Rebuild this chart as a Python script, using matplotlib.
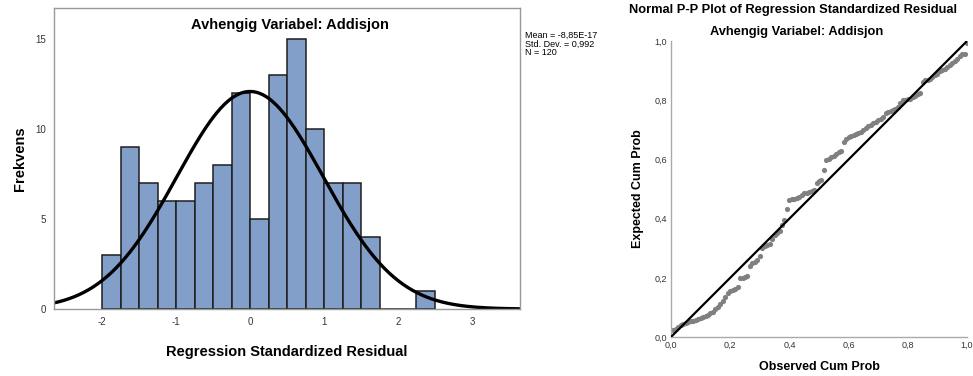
import numpy as np
import matplotlib
matplotlib.use("Agg")
import matplotlib.pyplot as plt

plt.rcParams['font.family'] = ['Liberation Sans', 'DejaVu Sans']
plt.rcParams['axes.unicode_minus'] = False

# histogram of standardized residuals (bin width 0.25)
bin_edges = [-2.0, -1.75, -1.5, -1.25, -1.0, -0.75, -0.5, -0.25, 0.0, 0.25,
             0.5, 0.75, 1.0, 1.25, 1.5, 1.75, 2.0, 2.25, 2.5]
counts = [3, 9, 7, 6, 6, 7, 8, 12, 5, 13, 15, 10, 7, 7, 4, 0, 0, 1]

# stats shown next to the histogram
res_mean = -8.85e-17
res_sd = 0.992
n_obs = 120

# P-P plot points (observed cum prob vs expected cum prob)
observed_cum = [
    0.008, 0.017, 0.025, 0.033, 0.042, 0.050, 0.058, 0.067, 0.075, 0.083,
    0.092, 0.100, 0.108, 0.117, 0.125, 0.133, 0.142, 0.150, 0.158, 0.167,
    0.175, 0.183, 0.192, 0.200, 0.208, 0.217, 0.225, 0.233, 0.242, 0.250,
    0.258, 0.267, 0.275, 0.283, 0.292, 0.300, 0.308, 0.317, 0.325, 0.333,
    0.342, 0.350, 0.358, 0.367, 0.375, 0.383, 0.392, 0.400, 0.408, 0.417,
    0.425, 0.433, 0.442, 0.450, 0.458, 0.467, 0.475, 0.483, 0.492, 0.500,
    0.508, 0.517, 0.525, 0.533, 0.542, 0.550, 0.558, 0.567, 0.575, 0.583,
    0.592, 0.600, 0.608, 0.617, 0.625, 0.633, 0.642, 0.650, 0.658, 0.667,
    0.675, 0.683, 0.692, 0.700, 0.708, 0.717, 0.725, 0.733, 0.742, 0.750,
    0.758, 0.767, 0.775, 0.783, 0.792, 0.800, 0.808, 0.817, 0.825, 0.833,
    0.842, 0.850, 0.858, 0.867, 0.875, 0.883, 0.892, 0.900, 0.908, 0.917,
    0.925, 0.933, 0.942, 0.950, 0.958, 0.967, 0.975, 0.983, 0.992, 1.000]
expected_cum = [
    0.022, 0.028, 0.033, 0.041, 0.044, 0.047, 0.050, 0.053, 0.055, 0.058,
    0.061, 0.064, 0.068, 0.071, 0.075, 0.080, 0.086, 0.093, 0.100, 0.112,
    0.120, 0.135, 0.148, 0.155, 0.158, 0.163, 0.168, 0.198, 0.201, 0.204,
    0.207, 0.240, 0.250, 0.255, 0.260, 0.275, 0.302, 0.306, 0.311, 0.316,
    0.330, 0.345, 0.352, 0.358, 0.380, 0.395, 0.434, 0.462, 0.465, 0.467,
    0.470, 0.473, 0.480, 0.485, 0.487, 0.489, 0.492, 0.496, 0.522, 0.527,
    0.530, 0.565, 0.597, 0.603, 0.608, 0.612, 0.620, 0.625, 0.628, 0.658,
    0.668, 0.676, 0.680, 0.684, 0.686, 0.689, 0.694, 0.698, 0.705, 0.712,
    0.716, 0.722, 0.728, 0.733, 0.738, 0.745, 0.756, 0.762, 0.765, 0.768,
    0.771, 0.778, 0.790, 0.800, 0.802, 0.804, 0.806, 0.810, 0.815, 0.820,
    0.826, 0.862, 0.868, 0.870, 0.873, 0.880, 0.886, 0.890, 0.898, 0.903,
    0.906, 0.912, 0.920, 0.927, 0.932, 0.940, 0.948, 0.955, 0.958, 0.993]

fig = plt.figure(figsize=(9.73, 3.76), dpi=100)

# --- histogram ---
ax1 = fig.add_axes([0.0555, 0.178, 0.479, 0.801])
ax1.hist(bin_edges[:-1], bins=bin_edges, weights=counts,
         color='#819fc8', edgecolor='#1e1e1e', linewidth=1.1)

# normal curve scaled to counts
bw = bin_edges[1] - bin_edges[0]
xs = np.linspace(-2.65, 3.65, 400)
pdf = np.exp(-0.5 * ((xs - res_mean) / res_sd) ** 2) / (res_sd * np.sqrt(2 * np.pi))
ax1.plot(xs, pdf * n_obs * bw, color='black', linewidth=2.4)

ax1.set_xlim(-2.65, 3.65)
ax1.set_ylim(0, 16.7)
ax1.set_xticks([-2, -1, 0, 1, 2, 3])
ax1.set_yticks([0, 5, 10, 15])
ax1.tick_params(length=0, labelsize=7, colors='#333333', pad=6)
for s in ax1.spines.values():
    s.set_color('#999999')
    s.set_linewidth(1.0)
ax1.text(0.506, 0.943, 'Avhengig Variabel: Addisjon', transform=ax1.transAxes,
         ha='center', va='center', fontsize=10.5, fontweight='bold')
ax1.set_ylabel('Frekvens', fontsize=10.5, fontweight='bold', labelpad=6)
ax1.set_xlabel('Regression Standardized Residual', fontsize=10.5,
               fontweight='bold', labelpad=13)

fig.text(0.5396, 0.918,
         'Mean = -8,85E-17\nStd. Dev. = 0,992\nN = %d' % n_obs,
         ha='left', va='top', fontsize=6.5, linespacing=0.95)

# --- P-P plot ---
ax2 = fig.add_axes([0.6896, 0.1037, 0.3042, 0.787])
ax2.plot([0, 1], [0, 1], color='black', linewidth=1.6, zorder=3)
ax2.scatter(observed_cum, expected_cum, s=14, color='#808080', zorder=2,
            linewidths=0)
ax2.set_xlim(0, 1)
ax2.set_ylim(0, 1)
ticks = [0.0, 0.2, 0.4, 0.6, 0.8, 1.0]
tick_labels = ['0,0', '0,2', '0,4', '0,6', '0,8', '1,0']
ax2.set_xticks(ticks)
ax2.set_xticklabels(tick_labels)
ax2.set_yticks(ticks)
ax2.set_yticklabels(tick_labels)
ax2.tick_params(length=0, labelsize=6.5, colors='#333333', pad=3)
ax2.spines['top'].set_visible(False)
ax2.spines['right'].set_visible(False)
for side in ['left', 'bottom']:
    ax2.spines[side].set_color('#aaaaaa')
    ax2.spines[side].set_linewidth(1.0)
ax2.set_xlabel('Observed Cum Prob', fontsize=9, fontweight='bold', labelpad=8)
ax2.set_ylabel('Expected Cum Prob', fontsize=9, fontweight='bold', labelpad=7)

fig.text(0.815, 0.973, 'Normal P-P Plot of Regression Standardized Residual',
         ha='center', va='center', fontsize=9.3, fontweight='bold')
fig.text(0.819, 0.915, 'Avhengig Variabel: Addisjon',
         ha='center', va='center', fontsize=9.3, fontweight='bold')

fig.savefig('out.png', dpi=100)
